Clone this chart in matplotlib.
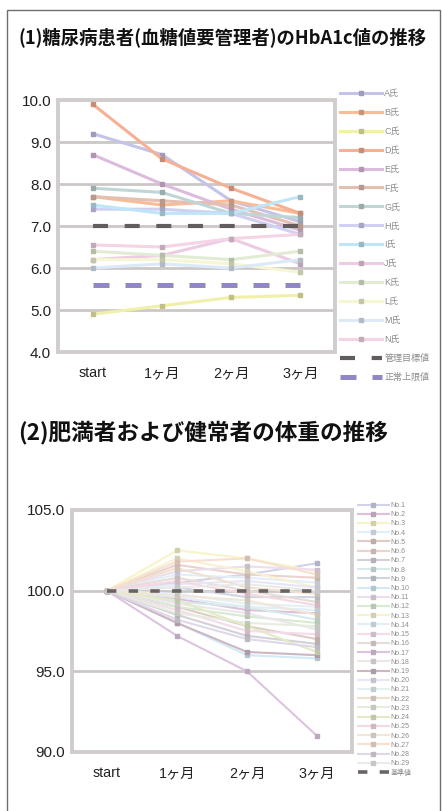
import matplotlib
matplotlib.use("Agg")
import matplotlib.pyplot as plt
from matplotlib.patches import Rectangle
from matplotlib.colors import to_rgb

plt.rcParams['font.family'] = ['Liberation Sans', 'Noto Sans CJK JP', 'DejaVu Sans']

# ---------------- data ----------------
months = ["start", "1ヶ月", "2ヶ月", "3ヶ月"]

# (1) HbA1c values
hba1c_labels = ["A氏", "B氏", "C氏", "D氏", "E氏", "F氏", "G氏",
                "H氏", "I氏", "J氏", "K氏", "L氏", "M氏", "N氏"]
hba1c_values = [
    [9.2, 8.7, 7.6, 7.1],
    [7.7, 7.5, 7.6, 7.3],
    [4.9, 5.1, 5.3, 5.35],
    [9.9, 8.6, 7.9, 7.3],
    [8.7, 8.0, 7.4, 6.9],
    [7.7, 7.6, 7.5, 7.0],
    [7.9, 7.8, 7.3, 7.2],
    [7.4, 7.4, 7.3, 6.8],
    [7.5, 7.3, 7.3, 7.7],
    [6.2, 6.3, 6.7, 6.1],
    [6.4, 6.3, 6.2, 6.4],
    [6.2, 6.2, 6.1, 5.9],
    [6.0, 6.1, 6.0, 6.2],
    [6.55, 6.5, 6.7, 6.8],
]
hba1c_colors = ["#c4c4ea", "#f8bc98", "#f0f0a8", "#f6b094", "#dcbcdc",
                "#e4c0b0", "#c0d6d6", "#d0d0f2", "#bee6f8", "#eccce2",
                "#e2ecd4", "#f6f6d4", "#dceaf8", "#f4d4e6"]
target_label = "管理目標値"
target_values = [7.0, 7.0, 7.0, 7.0]
normal_label = "正常上限値"
normal_values = [5.6, 5.6, 5.6, 5.6]

# (2) body weight, start = 100
weight_labels = ["No.%d" % i for i in range(1, 30)]
weight_values = [
    [100, 100.5, 101.0, 101.7],
    [100, 99.5, 98.8, 98.6],
    [100, 102.5, 102.0, 101.2],
    [100, 101.0, 100.8, 100.5],
    [100, 99.0, 97.8, 97.0],
    [100, 101.6, 101.0, 100.8],
    [100, 98.5, 97.2, 96.7],
    [100, 99.3, 99.0, 98.2],
    [100, 100.2, 99.6, 99.6],
    [100, 98.0, 96.0, 95.8],
    [100, 101.2, 101.5, 101.3],
    [100, 99.0, 98.4, 98.0],
    [100, 102.0, 101.2, 100.2],
    [100, 99.6, 99.0, 98.8],
    [100, 98.8, 97.5, 97.3],
    [100, 100.8, 100.0, 99.3],
    [100, 97.2, 95.0, 91.0],
    [100, 99.2, 98.6, 97.6],
    [100, 98.0, 96.2, 96.0],
    [100, 100.4, 100.6, 100.2],
    [100, 99.8, 99.2, 99.0],
    [100, 101.4, 100.2, 99.8],
    [100, 98.6, 98.0, 97.8],
    [100, 99.4, 97.8, 96.2],
    [100, 100.6, 99.8, 99.1],
    [100, 99.7, 99.4, 98.5],
    [100, 101.8, 102.0, 101.0],
    [100, 98.2, 97.0, 96.5],
    [100, 100.2, 100.4, 100.0],
]
weight_colors = ["#d2d2ea", "#dcc0dc", "#f8f4c8", "#e2eef8", "#e0ccc6",
                 "#ead2ce", "#d4d0d8", "#d8eaea", "#d0d6e0", "#d2eaf6",
                 "#ecdeec", "#d8ead2", "#f8f2d4", "#e2eef6", "#f4dcea",
                 "#e6dcd8", "#dcc4e0", "#ece6ec", "#ccb6c4", "#e8e6f4",
                 "#e6f0f4", "#f0e0d2", "#e6ecdf", "#e2eac6", "#f6d8e2",
                 "#f0e6da", "#f8e0d0", "#dfd8e6", "#eaeaea"]
base_label = "基準値"
base_values = [100, 100, 100, 100]


def darker(c, f=0.8):
    r, g, b = to_rgb(c)
    return (r * f, g * f, b * f)


GRID = "#ccc7c7"
TICK_FONT = ['Liberation Sans', 'Noto Sans CJK JP', 'DejaVu Sans']
TITLE_FONT = ['Noto Sans CJK JP', 'DejaVu Sans']

W, H = 442, 811
fig = plt.figure(figsize=(W / 100, H / 100), dpi=100)

# page frame
fig.patches.append(Rectangle((7 / W, -0.01), (440 - 7) / W, 1 - 10 / H + 0.01,
                             transform=fig.transFigure, fill=False,
                             edgecolor="#6e6e6e", lw=1.0))

fig.text(18 / W, 1 - 37 / H, "(1)糖尿病患者(血糖値要管理者)のHbA1c値の推移",
         ha="left", va="center", fontsize=13.2, fontweight="bold",
         family=TITLE_FONT, color="#111111")
fig.text(18 / W, 1 - 432 / H, "(2)肥満者および健常者の体重の推移",
         ha="left", va="center", fontsize=16.3, fontweight="bold",
         family=TITLE_FONT, color="#111111")


def style_axes(ax, ymin, ymax, step, fmt):
    ax.set_xlim(-0.5, 3.5)
    ax.set_ylim(ymin, ymax)
    ticks = [ymin + i * step for i in range(int(round((ymax - ymin) / step)) + 1)]
    ax.set_yticks(ticks)
    ax.set_yticklabels([fmt % t for t in ticks], family=TICK_FONT,
                       fontsize=11, color="#222222")
    ax.set_xticks(range(len(months)))
    ax.set_xticklabels(months, family=TICK_FONT, fontsize=10.3, color="#222222")
    ax.tick_params(length=0)
    ax.tick_params(axis="y", pad=5)
    ax.tick_params(axis="x", pad=10)
    for t in ticks:
        ax.axhline(t, color=GRID, lw=2.0, zorder=0.5)
    for s in ax.spines.values():
        s.set_color("#d2cdcd")
        s.set_linewidth(2.8)


# ---------------- chart 1 ----------------
ax1 = fig.add_axes([58 / W, 1 - 352 / H, 277 / W, 252 / H])
style_axes(ax1, 4.0, 10.0, 1.0, "%.1f")
x = range(len(months))
for lab, vals, col in zip(hba1c_labels, hba1c_values, hba1c_colors):
    ax1.plot(x, vals, color=col, lw=2.2, marker="s", ms=3.5,
             mfc=darker(col), mec=darker(col), label=lab, zorder=2)
ax1.plot(x, target_values, color="#625c5c", lw=3.0, ls=(0, (3.6, 4.0)),
         label=target_label, zorder=3)
ax1.plot(x, normal_values, color="#9088c6", lw=3.6, ls=(0, (3.2, 3.2)),
         label=normal_label, zorder=3)
leg1 = ax1.legend(loc="upper left", bbox_to_anchor=(340 / W, 1 - 89 / H),
                  bbox_transform=fig.transFigure, frameon=False, fontsize=6.5,
                  handlelength=4.6, handletextpad=0.3, labelspacing=1.1,
                  borderaxespad=0, borderpad=0, labelcolor="#8c8c8c")

# ---------------- chart 2 ----------------
ax2 = fig.add_axes([72 / W, 1 - 752 / H, 280 / W, 242 / H])
style_axes(ax2, 90.0, 105.0, 5.0, "%.1f")
for lab, vals, col in zip(weight_labels, weight_values, weight_colors):
    ax2.plot(x, vals, color=col, lw=1.5, marker="s", ms=2.5,
             mfc=darker(col, 0.85), mec=darker(col, 0.85), label=lab, zorder=2)
ax2.plot(x, base_values, color="#6a6464", lw=2.6, ls=(0, (2.6, 3.4)),
         label=base_label, zorder=3)
leg2 = ax2.legend(loc="upper left", bbox_to_anchor=(358 / W, 1 - 502 / H),
                  bbox_transform=fig.transFigure, frameon=False, fontsize=5,
                  handlelength=4.4, handletextpad=0.3, labelspacing=0.32,
                  borderaxespad=0, borderpad=0, labelcolor="#8c8c8c")

fig.savefig("out.png", dpi=100)
